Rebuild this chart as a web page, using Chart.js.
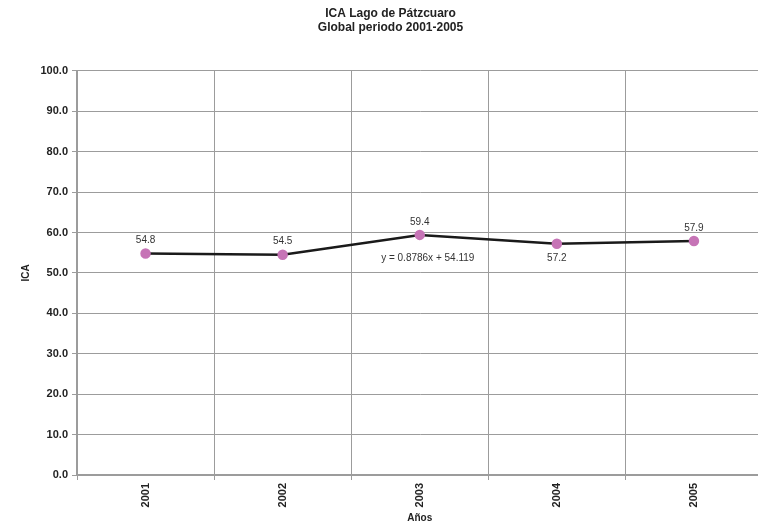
<!DOCTYPE html>
<html>
<head>
<meta charset="utf-8">
<script src="https://cdn.jsdelivr.net/npm/chart.js@4/dist/chart.umd.min.js"></script>
<style>
  html, body { margin: 0; padding: 0; background: #fff; overflow: hidden; }
  #wrap { width: 769px; height: 524px; }
</style>
</head>
<body>
<div id="wrap"><canvas id="chartIca"></canvas></div>
<script>
// datos (ICA global, Lago de Patzcuaro)
const years = ['2001', '2002', '2003', '2004', '2005'];
const icaValues = [54.8, 54.5, 59.4, 57.2, 57.9];
const yTicks = [0, 10, 20, 30, 40, 50, 60, 70, 80, 90, 100];
const trendText = 'y = 0.8786x + 54.119';

// etiqueta arriba o abajo del punto
const labelSide = ['top', 'top', 'top', 'bottom', 'top'];

const FONT = "'Liberation Sans', Arial, sans-serif";
const GRID = '#9c9c9c';

const pointLabels = {
  id: 'pointLabels',
  afterDatasetsDraw(chart) {
    const { ctx } = chart;
    const meta = chart.getDatasetMeta(0);
    ctx.save();
    ctx.font = '10px ' + FONT;
    ctx.fillStyle = '#333';
    ctx.textAlign = 'center';
    ctx.textBaseline = 'middle';
    meta.data.forEach((pt, i) => {
      const dy = labelSide[i] === 'bottom' ? 14 : -13;
      ctx.fillText(icaValues[i].toFixed(1), pt.x, pt.y + dy);
    });
    // ecuacion de la tendencia (Excel), junto al punto de 2003
    const p = meta.data[2];
    ctx.fillText(trendText, p.x + 8, p.y + 23);
    ctx.restore();
  },
};

new Chart(document.getElementById('chartIca'), {
  type: 'line',
  data: {
    labels: years,
    datasets: [{
      data: icaValues,
      borderColor: '#1a1a1a',
      borderWidth: 2.5,
      pointBackgroundColor: '#c674b6',
      pointBorderColor: '#c674b6',
      pointRadius: 4,
      tension: 0,
    }],
  },
  plugins: [pointLabels],
  options: {
    responsive: true,
    maintainAspectRatio: false,
    animation: false,
    layout: { padding: { left: 12, right: 0, top: 0, bottom: 0 } },
    plugins: {
      legend: { display: false },
      tooltip: { enabled: false },
      title: {
        display: true,
        text: ['ICA Lago de Pátzcuaro', 'Global periodo 2001-2005'],
        color: '#222',
        font: { family: FONT, size: 12, weight: 'bold', lineHeight: 1.2 },
        padding: { top: 6, bottom: 36 },
      },
    },
    scales: {
      x: {
        offset: true,
        afterFit: (s) => { s.height = 49; },
        grid: { offset: true, color: GRID, lineWidth: 1, tickLength: 5 },
        border: { color: GRID, width: 2 },
        ticks: {
          color: '#222',
          minRotation: 90,
          maxRotation: 90,
          padding: 3,
          font: { family: FONT, size: 11, weight: 'bold' },
        },
        title: {
          display: true,
          text: 'Años',
          color: '#222',
          padding: { top: 0, bottom: 0 },
          font: { family: FONT, size: 10, weight: 'bold' },
        },
      },
      y: {
        min: 0,
        max: 100,
        afterBuildTicks: (s) => { s.ticks = yTicks.map((v) => ({ value: v })); },
        afterFit: (s) => { s.width = 65; },
        grid: { color: GRID, lineWidth: 1, tickLength: 5 },
        border: { color: GRID, width: 2 },
        ticks: {
          color: '#222',
          padding: 4,
          font: { family: FONT, size: 11, weight: 'bold' },
          callback: (v) => Number(v).toFixed(1),
        },
        title: {
          display: true,
          text: 'ICA',
          color: '#222',
          padding: { top: 8, bottom: 0 },
          font: { family: FONT, size: 10, weight: 'bold' },
        },
      },
    },
  },
});
</script>
</body>
</html>
